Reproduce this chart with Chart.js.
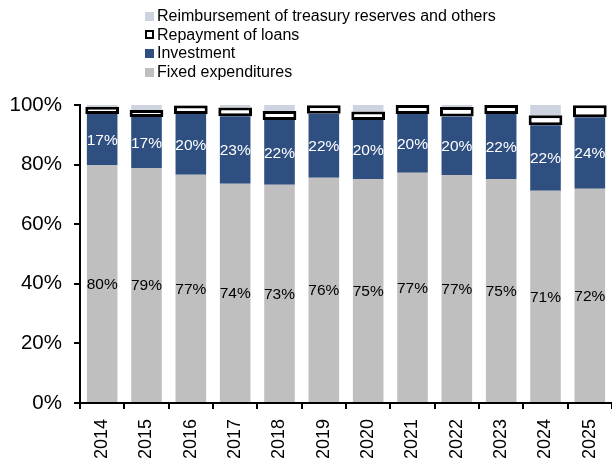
<!DOCTYPE html>
<html>
<head>
<meta charset="utf-8">
<script src="https://cdn.jsdelivr.net/npm/chart.js@4.4.1/dist/chart.umd.min.js"></script>
<style>
  html, body { margin: 0; padding: 0; background: #fff; }
  #wrap { position: relative; width: 612px; height: 465px; }
  #legend { position: absolute; left: 145px; top: 7px; font-family: "Liberation Sans", Arial, sans-serif; font-size: 16px; color: #000; }
  #legend .item { height: 18.6px; line-height: 18.6px; display: flex; align-items: center; white-space: nowrap; }
  #legend .box { width: 9px; height: 9px; margin-right: 3px; box-sizing: border-box; }
</style>
</head>
<body>
<div id="wrap">
  <canvas id="chart" width="612" height="465"></canvas>
  <div id="legend"></div>
</div>
<script>
// Shares of spending by year (percent of total)
const years = ["2014", "2015", "2016", "2017", "2018", "2019", "2020", "2021", "2022", "2023", "2024", "2025"];
const fixedExp = [79.9, 78.9, 76.6, 73.6, 73.2, 75.6, 75.2, 77.3, 76.5, 75.2, 71.2, 71.9];
const investment = [17.1, 17.1, 20.4, 22.6, 21.8, 21.5, 19.8, 19.7, 19.6, 21.8, 22.0, 24.0];
const repayment = [2.4, 2.3, 2.8, 3.0, 3.0, 2.8, 2.8, 3.0, 3.2, 3.0, 3.4, 4.0];
const reimbursement = [0.6, 1.7, 0.2, 0.8, 2.0, 0.1, 2.2, 0.0, 0.7, 0.0, 3.4, 0.1];

// labels as printed on the bars
const fixedLabels = [80, 79, 77, 74, 73, 76, 75, 77, 77, 75, 71, 72];
const investmentLabels = [17, 17, 20, 23, 22, 22, 20, 20, 20, 22, 22, 24];

const yTicks = [0, 20, 40, 60, 80, 100];

const FONT = "'Liberation Sans', Arial, sans-serif";

const datasets = [
  { label: "Fixed expenditures", data: fixedExp, backgroundColor: "#BFBFBF", barPercentage: 0.69 },
  { label: "Investment", data: investment, backgroundColor: "#2F4F80", barPercentage: 0.69 },
  { label: "Repayment of loans", data: repayment, backgroundColor: "#FFFFFF", borderColor: "#000000", borderWidth: 3, borderSkipped: false, barPercentage: 0.76 },
  { label: "Reimbursement of treasury reserves and others", data: reimbursement, backgroundColor: "#CDD4E0", barPercentage: 0.69 }
];

// draw the % labels in the middle of the two lower segments
const segmentLabels = {
  id: "segmentLabels",
  afterDatasetsDraw(chart) {
    const ctx = chart.ctx;
    const sets = [
      { idx: 0, labels: fixedLabels, color: "#000" },
      { idx: 1, labels: investmentLabels, color: "#fff" }
    ];
    ctx.save();
    ctx.font = "15.5px " + FONT;
    ctx.textAlign = "center";
    ctx.textBaseline = "middle";
    sets.forEach(s => {
      const meta = chart.getDatasetMeta(s.idx);
      meta.data.forEach((bar, i) => {
        ctx.fillStyle = s.color;
        ctx.fillText(s.labels[i] + "%", bar.x, (bar.y + bar.base) / 2 + 1);
      });
    });
    ctx.restore();
  }
};

new Chart(document.getElementById("chart"), {
  type: "bar",
  data: { labels: years, datasets },
  plugins: [segmentLabels],
  options: {
    responsive: false,
    animation: false,
    datasets: { bar: { categoryPercentage: 1 } },
    layout: { padding: { top: 105, left: 0, right: 0, bottom: 0 } },
    plugins: { legend: { display: false }, tooltip: { enabled: false } },
    scales: {
      x: {
        stacked: true,
        afterFit: s => { s.height = 62; s.paddingLeft = 0; s.paddingRight = 0; },
        grid: { display: true, drawOnChartArea: false, drawTicks: true, tickLength: 6, color: "#000", lineWidth: 2 },
        border: { display: true, color: "#000", width: 2 },
        ticks: { color: "#000", font: { family: FONT, size: 18 }, minRotation: 90, maxRotation: 90, padding: 10 }
      },
      y: {
        stacked: true,
        min: 0,
        max: 100,
        afterFit: s => { s.width = 80; },
        afterBuildTicks: s => { s.ticks = yTicks.map(v => ({ value: v })); },
        grid: { display: true, drawOnChartArea: false, drawTicks: true, tickLength: 6, color: "#000", lineWidth: 2 },
        border: { display: true, color: "#000", width: 2 },
        ticks: { color: "#000", font: { family: FONT, size: 20.5 }, padding: 12, callback: v => v + "%" }
      }
    }
  }
});

// legend, top to bottom in reverse stacking order
const legendEl = document.getElementById("legend");
datasets.slice().reverse().forEach(d => {
  const item = document.createElement("div");
  item.className = "item";
  const box = document.createElement("span");
  box.className = "box";
  box.style.background = d.backgroundColor;
  if (d.borderWidth) box.style.border = "2px solid " + d.borderColor;
  const txt = document.createElement("span");
  txt.textContent = d.label;
  item.appendChild(box);
  item.appendChild(txt);
  legendEl.appendChild(item);
});
</script>
</body>
</html>
